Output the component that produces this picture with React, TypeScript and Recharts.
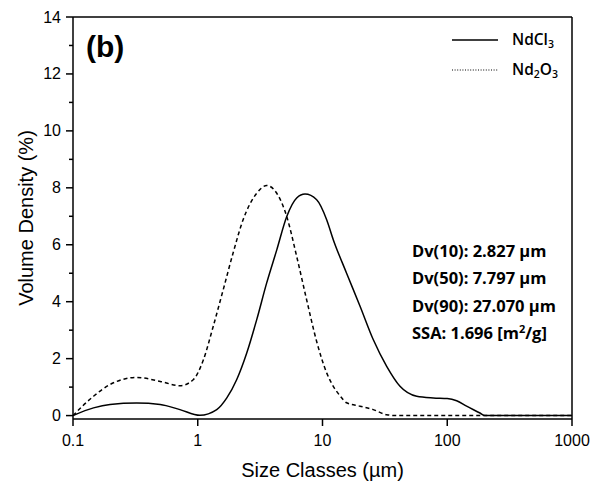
import React from "react";
import {
  LineChart,
  Line,
  XAxis,
  YAxis,
  Legend,
  ReferenceLine,
} from "recharts";

// NdCl3 particle size distribution (size in µm, volume density in %)
const ndcl3Sizes = [
  0.1, 0.146, 0.198, 0.324, 0.5, 0.72, 1.04, 1.42, 1.71, 2.05, 2.47, 2.97,
  3.57, 4.3, 5.17, 6.21, 7.24, 8.98, 10.8, 12.2, 15.6, 20, 25.5, 32.7, 41.8,
  56.9, 77.3, 100, 119, 143, 183, 200, 500, 1000,
];
const ndcl3Values = [
  0, 0.27, 0.39, 0.44, 0.39, 0.21, 0.01, 0.21, 0.62, 1.26, 2.2, 3.37, 4.66,
  5.82, 6.99, 7.64, 7.78, 7.58, 6.88, 6.18, 5.0, 3.84, 2.67, 1.73, 1.03, 0.68,
  0.62, 0.6, 0.52, 0.33, 0.09, 0, 0, 0,
];

// Nd2O3 particle size distribution
const nd2o3Sizes = [
  0.1, 0.146, 0.198, 0.324, 0.5, 0.72, 0.92, 1.11, 1.33, 1.6, 1.92, 2.31, 2.97,
  3.57, 4.3, 5.17, 6.21, 7.46, 8.98, 10.8, 12.2, 13.8, 15.6, 20, 25.5, 32.7,
  40, 100, 1000,
];
const nd2o3Values = [
  0, 0.68, 1.09, 1.34, 1.2, 1.05, 1.26, 1.96, 3.13, 4.42, 5.71, 6.88, 7.81,
  8.08, 7.81, 6.99, 5.59, 4.07, 2.6, 1.5, 1.03, 0.7, 0.45, 0.33, 0.21, 0.03,
  0, 0, 0,
];

const xTicks = [0.1, 1, 10, 100, 1000];
const yTicks = [0, 1, 2, 3, 4, 5, 6, 7, 8, 9, 10, 11, 12, 13, 14];

const statLines = [
  "Dv(10): 2.827 µm",
  "Dv(50): 7.797 µm",
  "Dv(90): 27.070 µm",
];

const ndcl3Data = ndcl3Sizes.map((size, i) => ({ size, value: ndcl3Values[i] }));
const nd2o3Data = nd2o3Sizes.map((size, i) => ({ size, value: nd2o3Values[i] }));

const AXIS_FONT = "'Liberation Sans', Arial, sans-serif";
const LABEL_FONT = "'Open Sans', 'Noto Sans', sans-serif";

function YTick({ x, y, payload }: any) {
  const major = payload.value % 2 === 0;
  return (
    <g>
      <line x1={x} x2={x - (major ? 7 : 4)} y1={y} y2={y} stroke="#000" strokeWidth={1.5} />
      {major && (
        <text x={x - 12} y={y} dy={5.5} textAnchor="end" fontSize={16} fontFamily={AXIS_FONT} fill="#000">
          {payload.value}
        </text>
      )}
    </g>
  );
}

function XTick({ x, y, payload }: any) {
  return (
    <g>
      <line x1={x} x2={x} y1={y} y2={y + 7} stroke="#000" strokeWidth={1.5} />
      <text x={x} y={y + 27} textAnchor="middle" fontSize={16} fontFamily={AXIS_FONT} fill="#000">
        {payload.value}
      </text>
    </g>
  );
}

function YLabel({ viewBox }: any) {
  const cx = 26;
  const cy = viewBox.y + viewBox.height / 2;
  return (
    <text
      x={cx}
      y={cy}
      dy={7}
      transform={`rotate(-90 ${cx} ${cy})`}
      textAnchor="middle"
      fontSize={20}
      fontFamily={AXIS_FONT}
      fill="#000"
    >
      Volume Density (%)
    </text>
  );
}

function LegendContent() {
  return (
    <svg width={140} height={60} style={{ display: "block", overflow: "visible" }}>
      <line x1={2} x2={48} y1={12} y2={12} stroke="#000" strokeWidth={1.5} />
      <text x={62} y={17} fontSize={15.5} fontWeight={600} fontFamily={LABEL_FONT} fill="#000">
        NdCl<tspan fontSize={10.5} dy={3}>3</tspan>
      </text>
      <line x1={2} x2={48} y1={42} y2={42} stroke="#000" strokeWidth={1.2} strokeDasharray="1 1.6" />
      <text x={62} y={47} fontSize={15.5} fontWeight={600} fontFamily={LABEL_FONT} fill="#000">
        Nd<tspan fontSize={10.5} dy={3}>2</tspan>
        <tspan dy={-3}>O</tspan>
        <tspan fontSize={10.5} dy={3}>3</tspan>
      </text>
    </svg>
  );
}

export default function App() {
  return (
    <div style={{ position: "absolute", left: 0, top: 0, width: 603, height: 487, background: "#fff" }}>
      <LineChart width={603} height={487} margin={{ top: 17, right: 31, bottom: 0, left: 0 }}>
        <XAxis
          dataKey="size"
          type="number"
          scale="log"
          domain={[0.1, 1000]}
          allowDataOverflow
          ticks={xTicks}
          height={68}
          tickSize={0}
          tickMargin={0}
          tickLine={false}
          axisLine={{ stroke: "#000", strokeWidth: 1.5 }}
          tick={<XTick />}
          interval={0}
          label={{
            value: "Size Classes (µm)",
            position: "insideBottom",
            offset: 10,
            fontSize: 20,
            fontFamily: AXIS_FONT,
            fill: "#000",
          }}
        />
        <YAxis
          type="number"
          domain={[-0.12, 14]}
          allowDataOverflow
          ticks={yTicks}
          width={73}
          tickSize={0}
          tickMargin={0}
          tickLine={false}
          axisLine={{ stroke: "#000", strokeWidth: 1.5 }}
          tick={<YTick />}
          interval={0}
          label={<YLabel />}
        />
        <ReferenceLine y={14} stroke="#000" strokeWidth={1.5} />
        <ReferenceLine x={1000} stroke="#000" strokeWidth={1.5} />
        <Legend
          layout="vertical"
          align="center"
          verticalAlign="middle"
          content={<LegendContent />}
          wrapperStyle={{ position: "absolute", left: 450, top: 28, width: 140, height: 60 }}
        />
        <Line
          data={ndcl3Data}
          dataKey="value"
          name="NdCl3"
          type="monotone"
          stroke="#000"
          strokeWidth={1.5}
          dot={false}
          isAnimationActive={false}
        />
        <Line
          data={nd2o3Data}
          dataKey="value"
          name="Nd2O3"
          type="monotone"
          stroke="#000"
          strokeWidth={1.5}
          strokeDasharray="4 3"
          dot={false}
          isAnimationActive={false}
        />
      </LineChart>
      <svg
        width={603}
        height={487}
        style={{ position: "absolute", left: 0, top: 0, pointerEvents: "none" }}
      >
        <text x={86} y={57} fontSize={30} fontWeight={700} fontFamily={AXIS_FONT} fill="#000">
          (b)
        </text>
        {statLines.map((t, i) => (
          <text
            key={t}
            x={412}
            y={256.5 + i * 27.5}
            fontSize={16.5}
            fontWeight={700}
            fontFamily={LABEL_FONT}
            fill="#000"
          >
            {t}
          </text>
        ))}
        <text x={412} y={339} fontSize={16.5} fontWeight={700} fontFamily={LABEL_FONT} fill="#000">
          SSA: 1.696 [m<tspan fontSize={11} dy={-6}>2</tspan>
          <tspan dy={6}>/g]</tspan>
        </text>
      </svg>
    </div>
  );
}
